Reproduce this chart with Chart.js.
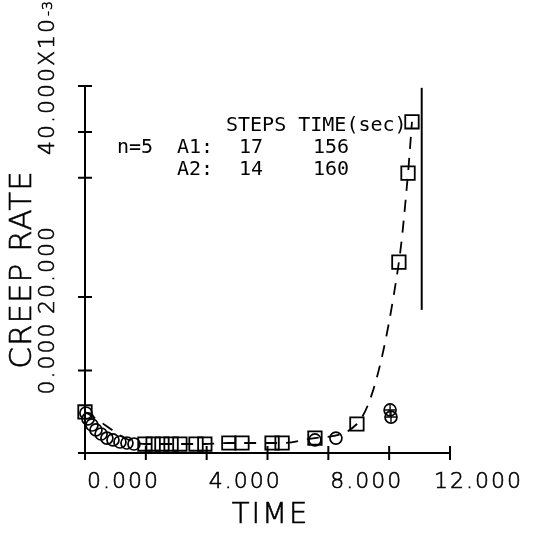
<!DOCTYPE html>
<html>
<head>
<meta charset="utf-8">
<script src="https://cdn.jsdelivr.net/npm/chart.js@4.4.1/dist/chart.umd.min.js"></script>
<style>
  html, body { margin: 0; padding: 0; background: #fff; }
  canvas { display: block; }
</style>
</head>
<body>
<canvas id="chart" width="533" height="536"></canvas>
<script>
// creep rate (x10^-3) against time, runs A1 (squares) and A2 (circles)
const a1Time = [0.0, 1.97, 2.24, 2.53, 2.83, 3.12, 3.65, 3.94, 4.73, 5.16, 6.15, 6.48, 7.56, 8.94, 10.32, 10.62, 10.75];
const a1Rate = [4.47, 0.98, 0.98, 0.98, 0.98, 0.98, 0.98, 0.98, 1.09, 1.09, 1.09, 1.09, 1.63, 3.16, 20.8, 30.5, 36.1];
const a2Time = [0.03, 0.10, 0.23, 0.36, 0.53, 0.72, 0.92, 1.15, 1.38, 1.61, 7.56, 8.25, 10.03, 10.06];
const a2Rate = [4.36, 3.71, 3.05, 2.51, 2.07, 1.63, 1.42, 1.20, 1.09, 0.98, 1.42, 1.63, 4.69, 3.92];
const a2Crossed = [12, 13];
const limitTime = [11.07, 11.07];
const limitRate = [15.6, 39.8];

const xTicks = [0, 2, 4, 6, 8, 10, 12];
const yTicks = [0, 9, 17, 30, 35, 40];
const xLabelValues = [0, 4, 8, 12];
const xLabels = ["0.000", "4.000", "8.000", "12.000"];
const yLabelValues = [0, 20, 40];
const yLabels = ["0.000", "20.000", "40.000X10"];
const yExponent = "-3";

const orderLabel = "n=5";
const runNames = ["A1:", "A2:"];
const runSteps = ["17", "14"];
const runSeconds = ["156", "160"];

const pts = (xs, ys) => xs.map((x, i) => ({ x: x, y: ys[i] }));

const plotFont = (size) => '200 ' + size + 'px "DejaVu Sans"';

// thin pen text, a touch heavier than the bare light face
function penText(ctx, t, x, y) {
  ctx.fillText(t, x, y);
  ctx.strokeText(t, x, y);
}

// axes, ticks and all the text, drawn the old plotter way
const frame = {
  id: "frame",
  afterDatasetsDraw(chart) {
    const { ctx, chartArea: a, scales } = chart;
    const x = scales.x, y = scales.y;
    ctx.save();
    ctx.strokeStyle = "#000";
    ctx.fillStyle = "#000";
    ctx.lineWidth = 2;
    ctx.beginPath();
    ctx.moveTo(a.left, y.getPixelForValue(yTicks[yTicks.length - 1]));
    ctx.lineTo(a.left, a.bottom);
    ctx.lineTo(x.getPixelForValue(xTicks[xTicks.length - 1]), a.bottom);
    xTicks.forEach((v) => {
      const px = x.getPixelForValue(v);
      ctx.moveTo(px, a.bottom - 7);
      ctx.lineTo(px, a.bottom + 7);
    });
    yTicks.forEach((v) => {
      const py = y.getPixelForValue(v);
      ctx.moveTo(a.left - 7, py);
      ctx.lineTo(a.left + 7, py);
    });
    ctx.stroke();

    ctx.lineWidth = 0.6;
    ctx.font = plotFont(22);
    ctx.letterSpacing = "2px";
    ctx.textBaseline = "alphabetic";
    ctx.textAlign = "left";
    xLabels.forEach((t, i) => {
      const w = ctx.measureText(t).width;
      const px = Math.min(x.getPixelForValue(xLabelValues[i]) + 2, chart.width - w - 10);
      penText(ctx, t, px, a.bottom + 35);
    });

    yLabels.forEach((t, i) => {
      const py = y.getPixelForValue(yLabelValues[i]) + (i === 0 ? -95 : 0);
      ctx.save();
      ctx.translate(a.left - 31, py);
      ctx.rotate(-Math.PI / 2);
      ctx.font = plotFont(22);
      ctx.textAlign = "center";
      penText(ctx, t, 0, 0);
      if (i === yLabels.length - 1) {
        const w = ctx.measureText(t).width;
        ctx.font = plotFont(14);
        ctx.letterSpacing = "1px";
        ctx.textAlign = "left";
        penText(ctx, yExponent, w / 2 + 1, -2);
      }
      ctx.restore();
    });

    ctx.font = plotFont(29);
    ctx.textAlign = "center";
    penText(ctx, "TIME", (a.left + a.right) / 2 + 3, a.bottom + 70);

    ctx.save();
    ctx.translate(a.left - 54, (a.top + a.bottom) / 2);
    ctx.rotate(-Math.PI / 2);
    ctx.font = plotFont(31);
    ctx.letterSpacing = "1px";
    penText(ctx, "CREEP RATE", 0, 0);
    ctx.restore();

    // run table
    ctx.letterSpacing = "0px";
    ctx.font = '20px "DejaVu Sans Mono"';
    ctx.textAlign = "left";
    ctx.fillText("STEPS TIME(sec)", 226, 131);
    ctx.fillText(orderLabel, 117, 153);
    runNames.forEach((n, i) => {
      const by = 153 + i * 22;
      ctx.fillText(n, 177, by);
      ctx.fillText(runSteps[i], 239, by);
      ctx.fillText(runSeconds[i], 313, by);
    });
    ctx.restore();
  }
};

new Chart(document.getElementById("chart"), {
  type: "scatter",
  data: {
    datasets: [
      {
        label: "limit",
        data: pts(limitTime, limitRate),
        showLine: true,
        borderColor: "#000",
        borderWidth: 2,
        pointRadius: 0,
        clip: false,
      },
      {
        label: "A1",
        data: pts(a1Time, a1Rate),
        showLine: true,
        borderColor: "#000",
        borderWidth: 1.8,
        borderDash: [12, 9],
        cubicInterpolationMode: "monotone",
        pointStyle: "rect",
        pointRadius: 9.5,
        pointBorderWidth: 1.8,
        pointBackgroundColor: "rgba(0,0,0,0)",
        pointBorderColor: "#000",
        clip: false,
      },
      {
        label: "A2",
        data: pts(a2Time, a2Rate),
        showLine: false,
        pointStyle: "circle",
        pointRadius: 6,
        pointBorderWidth: 1.7,
        pointBackgroundColor: "rgba(0,0,0,0)",
        pointBorderColor: "#000",
        clip: false,
      },
      {
        label: "A2 end",
        data: a2Crossed.map((i) => ({ x: a2Time[i], y: a2Rate[i] })),
        showLine: false,
        pointStyle: "cross",
        pointRadius: 5,
        pointBorderWidth: 1.4,
        pointBorderColor: "#000",
        clip: false,
      },
    ],
  },
  options: {
    responsive: false,
    animation: false,
    devicePixelRatio: 1,
    layout: { padding: { left: 85, right: 83, top: 86, bottom: 83 } },
    plugins: { legend: { display: false }, tooltip: { enabled: false } },
    scales: {
      x: { type: "linear", min: 0, max: 12, display: false },
      y: { type: "linear", min: 0, max: 40, display: false },
    },
  },
  plugins: [frame],
});
</script>
</body>
</html>
